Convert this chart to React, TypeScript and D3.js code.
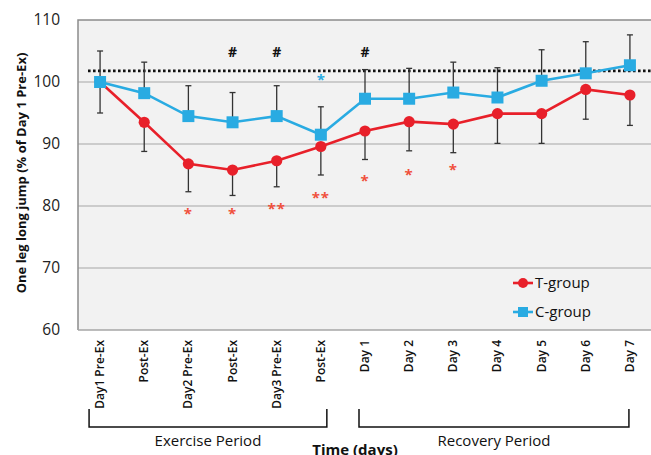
import * as d3 from 'd3';

const categories = [
  "Day1 Pre-Ex", "Post-Ex", "Day2 Pre-Ex", "Post-Ex", "Day3 Pre-Ex", "Post-Ex",
  "Day 1", "Day 2", "Day 3", "Day 4", "Day 5", "Day 6", "Day 7",
];
const tGroup = [100, 93.5, 86.8, 85.8, 87.3, 89.6, 92.1, 93.6, 93.2, 94.9, 94.9, 98.8, 97.9];
const cGroup = [100, 98.2, 94.5, 93.5, 94.5, 91.5, 97.3, 97.3, 98.3, 97.5, 100.2, 101.4, 102.7];
// Excel style: C-group plus error only, T-group minus error only
const cErrUp = [5, 5, 4.9, 4.8, 4.9, 4.5, 4.7, 4.9, 4.9, 4.8, 5.0, 5.1, 4.9];
const tErrDown = [5, 4.7, 4.5, 4.1, 4.2, 4.6, 4.6, 4.7, 4.6, 4.8, 4.8, 4.8, 4.9];
const yTicks = [60, 70, 80, 90, 100, 110];
const refLine = 101.8;

const hashMarks = [3, 4, 6];
const hashLevel = 104.8;
const blueStars = [{ i: 5, v: 100.8, t: "*" }];
const redStars = [
  { i: 2, v: 79.2, t: "*" }, { i: 3, v: 79.2, t: "*" }, { i: 4, v: 80.0, t: "**" },
  { i: 5, v: 81.8, t: "**" }, { i: 6, v: 84.5, t: "*" }, { i: 7, v: 85.5, t: "*" },
  { i: 8, v: 86.3, t: "*" },
];
const periods = [
  { label: "Exercise Period", from: 0, to: 5, dl: -11, dr: 6 },
  { label: "Recovery Period", from: 6, to: 12, dl: -6, dr: -1 },
];

const RED = "#e8202a";
const BLUE = "#29abe2";
const FONT = "'Open Sans', 'Liberation Sans', sans-serif";

export default function App() {
  const W = 651, H = 455;
  const left = 78, right = 652, top = 20, bottom = 330;
  const x = d3.scalePoint<number>().domain(categories.map((_, i) => i)).range([left, right]).padding(0.5);
  const y = d3.scaleLinear().domain([60, 110]).range([bottom, top]);
  const line = d3.line<number>().x((_, i) => x(i)!).y(d => y(d));

  return (
    <svg width={W} height={H} style={{ position: 'absolute', left: 0, top: 0 }} fontFamily={FONT}>
      <rect x={left} y={top} width={right - left} height={bottom - top} fill="#f2f2f2" />
      {yTicks.filter(t => t > 60 && t < 110).map(t => (
        <line key={t} x1={left} x2={right} y1={y(t)} y2={y(t)} stroke="#a6a6a6" strokeWidth={1.2} />
      ))}
      <path d={`M${left},${bottom}V${top}H${right}`} fill="none" stroke="#8c8c8c" strokeWidth={1.5} />
      <line x1={left} x2={right} y1={bottom} y2={bottom} stroke="#a6a6a6" strokeWidth={1.5} />
      {yTicks.map(t => (
        <text key={t} x={60} y={y(t)} dy="0.35em" textAnchor="end" fontSize={15.5} fill="#222">{t}</text>
      ))}
      <line x1={88} x2={right} y1={y(refLine)} y2={y(refLine)} stroke="#111" strokeWidth={2.6} strokeDasharray="2.6,2.4" />

      {/* error bars */}
      {categories.map((_, i) => {
        const cx = x(i)!;
        const y1 = y(cGroup[i] + cErrUp[i]);
        const y2 = y(tGroup[i] - tErrDown[i]);
        return (
          <g key={i} stroke="#333" strokeWidth={1.3}>
            <line x1={cx} x2={cx} y1={y1} y2={y(cGroup[i])} />
            <line x1={cx - 3} x2={cx + 3} y1={y1} y2={y1} />
            <line x1={cx} x2={cx} y1={y(tGroup[i])} y2={y2} />
            <line x1={cx - 3} x2={cx + 3} y1={y2} y2={y2} />
          </g>
        );
      })}

      <path d={line(tGroup)!} fill="none" stroke={RED} strokeWidth={2.6} />
      {tGroup.map((v, i) => (
        <circle key={i} cx={x(i)!} cy={y(v)} r={5.6} fill={RED} />
      ))}
      <path d={line(cGroup)!} fill="none" stroke={BLUE} strokeWidth={2.6} />
      {cGroup.map((v, i) => (
        <rect key={i} x={x(i)! - 6} y={y(v) - 6} width={12} height={12} fill={BLUE} />
      ))}

      {hashMarks.map(i => (
        <text key={i} x={x(i)!} y={y(hashLevel) + 5} textAnchor="middle" fontSize={14} fontWeight="bold" fill="#111">#</text>
      ))}
      {blueStars.map(s => (
        <text key={s.i} x={x(s.i)!} y={y(s.v) + 8} textAnchor="middle" fontSize={15} fontWeight="bold" fill={BLUE}>{s.t}</text>
      ))}
      {redStars.map(s => (
        <text key={s.i} x={x(s.i)!} y={y(s.v) + 8} textAnchor="middle" fontSize={15} fontWeight="bold" fill="#f0503c" letterSpacing={1}>{s.t}</text>
      ))}

      {/* legend */}
      <g>
        <line x1={513} x2={533} y1={283} y2={283} stroke={RED} strokeWidth={2.6} />
        <circle cx={523} cy={283} r={5} fill={RED} />
        <text x={535} y={283} dy="0.35em" fontSize={15} fill="#111">T-group</text>
        <line x1={513} x2={533} y1={312} y2={312} stroke={BLUE} strokeWidth={2.6} />
        <rect x={518} y={307} width={10} height={10} fill={BLUE} />
        <text x={535} y={312} dy="0.35em" fontSize={15} fill="#111">C-group</text>
      </g>

      {categories.map((c, i) => (
        <text key={i} transform={`translate(${x(i)! + 4},340) rotate(-90)`} textAnchor="end" fontSize={12} fontWeight={600} fill="#111">{c}</text>
      ))}

      {periods.map(p => {
        const x1 = x(p.from)! + p.dl, x2 = x(p.to)! + p.dr;
        return (
          <g key={p.label}>
            <path d={`M${x1},409V427H${x2}V409`} fill="none" stroke="#111" strokeWidth={1.5} />
            <text x={(x1 + x2) / 2} y={446} textAnchor="middle" fontSize={15} fill="#111">{p.label}</text>
          </g>
        );
      })}
      <text x={355} y={455} textAnchor="middle" fontSize={15} fontWeight="bold" fill="#111">Time (days)</text>
      <text transform={`translate(21,173) rotate(-90)`} dy="0.35em" textAnchor="middle" fontSize={13} fontWeight="bold" fill="#111">
        One leg long jump (% of Day 1 Pre-Ex)
      </text>
    </svg>
  );
}
